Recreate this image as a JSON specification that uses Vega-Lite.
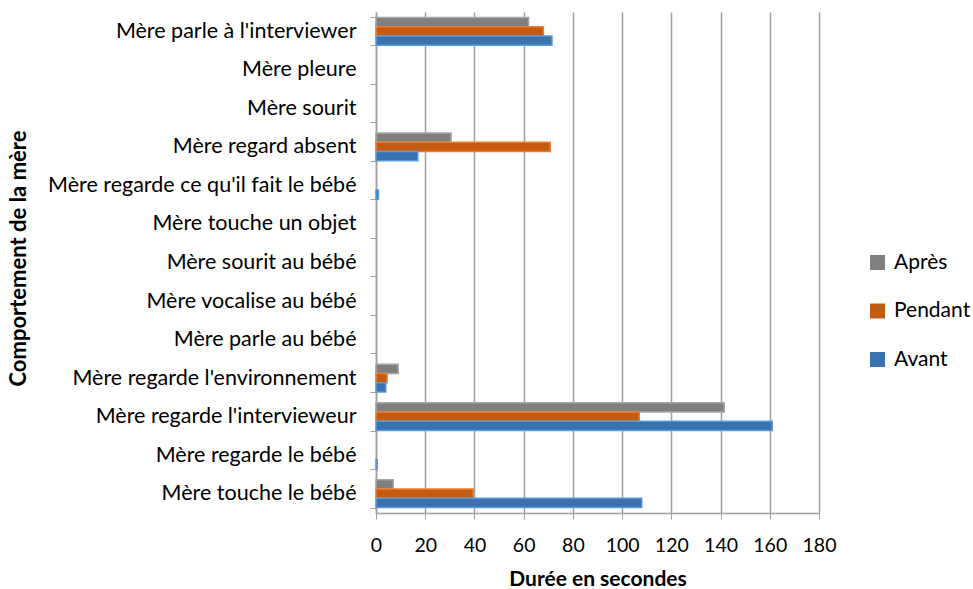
{
  "$schema": "https://vega.github.io/schema/vega-lite/v6.json",
  "autosize": "none",
  "width": 443,
  "height": 501,
  "padding": {"left": 376, "top": 12, "right": 154, "bottom": 76},
  "background": "white",
  "config": {
    "font": "Lato",
    "view": {"stroke": null},
    "axis": {"labelColor": "#000", "titleColor": "#000", "labelFont": "Lato", "titleFont": "Lato"}
  },
  "data": {
    "values": [
      {"comportement": "Mère parle à l'interviewer", "periode": "Après", "duree": 62},
      {"comportement": "Mère parle à l'interviewer", "periode": "Pendant", "duree": 68},
      {"comportement": "Mère parle à l'interviewer", "periode": "Avant", "duree": 71.5},
      {"comportement": "Mère pleure", "periode": "Après", "duree": 0},
      {"comportement": "Mère pleure", "periode": "Pendant", "duree": 0},
      {"comportement": "Mère pleure", "periode": "Avant", "duree": 0},
      {"comportement": "Mère sourit", "periode": "Après", "duree": 0},
      {"comportement": "Mère sourit", "periode": "Pendant", "duree": 0},
      {"comportement": "Mère sourit", "periode": "Avant", "duree": 0},
      {"comportement": "Mère regard absent", "periode": "Après", "duree": 30.5},
      {"comportement": "Mère regard absent", "periode": "Pendant", "duree": 70.8},
      {"comportement": "Mère regard absent", "periode": "Avant", "duree": 17},
      {"comportement": "Mère regarde ce qu'il fait le bébé", "periode": "Après", "duree": 0},
      {"comportement": "Mère regarde ce qu'il fait le bébé", "periode": "Pendant", "duree": 0},
      {"comportement": "Mère regarde ce qu'il fait le bébé", "periode": "Avant", "duree": 1},
      {"comportement": "Mère touche un objet", "periode": "Après", "duree": 0},
      {"comportement": "Mère touche un objet", "periode": "Pendant", "duree": 0},
      {"comportement": "Mère touche un objet", "periode": "Avant", "duree": 0},
      {"comportement": "Mère sourit au bébé", "periode": "Après", "duree": 0},
      {"comportement": "Mère sourit au bébé", "periode": "Pendant", "duree": 0},
      {"comportement": "Mère sourit au bébé", "periode": "Avant", "duree": 0},
      {"comportement": "Mère vocalise au bébé", "periode": "Après", "duree": 0},
      {"comportement": "Mère vocalise au bébé", "periode": "Pendant", "duree": 0},
      {"comportement": "Mère vocalise au bébé", "periode": "Avant", "duree": 0},
      {"comportement": "Mère parle au bébé", "periode": "Après", "duree": 0},
      {"comportement": "Mère parle au bébé", "periode": "Pendant", "duree": 0},
      {"comportement": "Mère parle au bébé", "periode": "Avant", "duree": 0},
      {"comportement": "Mère regarde l'environnement", "periode": "Après", "duree": 9},
      {"comportement": "Mère regarde l'environnement", "periode": "Pendant", "duree": 4.5},
      {"comportement": "Mère regarde l'environnement", "periode": "Avant", "duree": 4},
      {"comportement": "Mère regarde l'intervieweur", "periode": "Après", "duree": 141.5},
      {"comportement": "Mère regarde l'intervieweur", "periode": "Pendant", "duree": 107},
      {"comportement": "Mère regarde l'intervieweur", "periode": "Avant", "duree": 161},
      {"comportement": "Mère regarde le bébé", "periode": "Après", "duree": 0},
      {"comportement": "Mère regarde le bébé", "periode": "Pendant", "duree": 0},
      {"comportement": "Mère regarde le bébé", "periode": "Avant", "duree": 0.5},
      {"comportement": "Mère touche le bébé", "periode": "Après", "duree": 7},
      {"comportement": "Mère touche le bébé", "periode": "Pendant", "duree": 39.5},
      {"comportement": "Mère touche le bébé", "periode": "Avant", "duree": 108}
    ]
  },
  "mark": {"type": "bar", "strokeWidth": 1.5},
  "encoding": {
    "y": {
      "field": "comportement",
      "type": "nominal",
      "sort": null,
      "scale": {"paddingInner": 0.28, "paddingOuter": 0.14},
      "axis": {
        "title": "Comportement de la mère",
        "titleFontSize": 22,
        "titleFontWeight": "bold",
        "titleX": -358,
        "titleY": 246,
        "titleAngle": -90,
        "titleAlign": "center",
        "titleBaseline": "middle",
        "labelFontSize": 21.5,
        "labelPadding": 14,
        "labelLimit": 400,
        "tickBand": "extent",
        "tickColor": "#a0a0a0",
        "tickSize": 6,
        "domainColor": "#a0a0a0",
        "domainWidth": 1.5,
        "grid": false
      }
    },
    "yOffset": {
      "field": "periode",
      "type": "nominal",
      "sort": ["Après", "Pendant", "Avant"],
      "scale": {"paddingInner": 0, "paddingOuter": 0}
    },
    "x": {
      "field": "duree",
      "type": "quantitative",
      "scale": {"domain": [0, 180], "nice": false},
      "axis": {
        "title": "Durée en secondes",
        "titleFontSize": 21,
        "titleFontWeight": "bold",
        "titlePadding": 14,
        "labelFontSize": 19.5,
        "labelPadding": 17,
        "labelFlush": false,
        "labelOverlap": false,
        "values": [0, 20, 40, 60, 80, 100, 120, 140, 160, 180],
        "grid": true,
        "gridColor": "#a0a0a0",
        "gridWidth": 1.5,
        "tickColor": "#a0a0a0",
        "tickSize": 6,
        "domainColor": "#a0a0a0",
        "domainWidth": 1.5
      }
    },
    "color": {
      "field": "periode",
      "type": "nominal",
      "scale": {"domain": ["Après", "Pendant", "Avant"], "range": ["#7f7f7f", "#c55a11", "#3a72b0"]},
      "legend": {
        "title": null,
        "orient": "none",
        "legendX": 491,
        "legendY": 240,
        "labelFontSize": 21,
        "labelColor": "#000",
        "symbolType": "square",
        "symbolSize": 225,
        "symbolStrokeWidth": 0,
        "rowPadding": 26.5,
        "labelOffset": 6
      }
    },
    "stroke": {
      "field": "periode",
      "type": "nominal",
      "scale": {"domain": ["Après", "Pendant", "Avant"], "range": ["#a6a6a6", "#ed7d31", "#5b9bd5"]},
      "legend": null
    },
    "strokeOpacity": {"condition": {"test": "datum.duree > 0", "value": 1}, "value": 0}
  }
}
